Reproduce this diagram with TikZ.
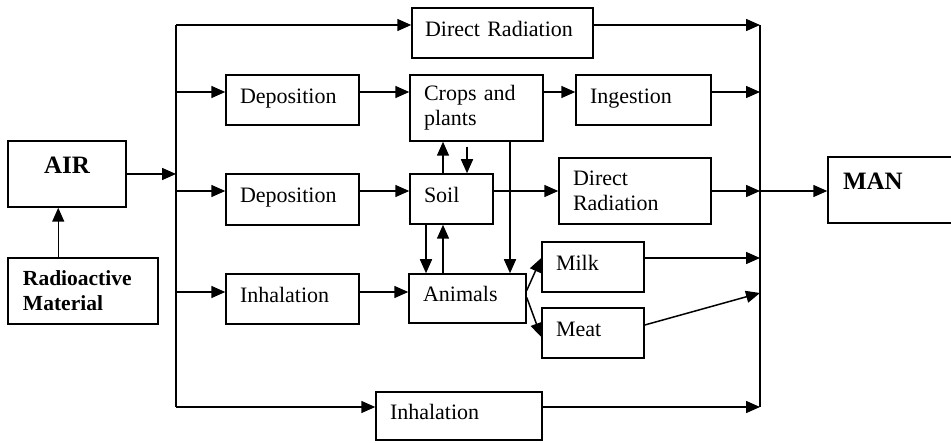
\documentclass[tikz,border=0pt]{standalone}
\usepackage{fontspec}
\setmainfont{Liberation Serif}
\usetikzlibrary{arrows.meta,calc}
\begin{document}
\begin{tikzpicture}[x=1pt,y=-1pt,
  line width=1.5pt,
  arr/.style={-{Triangle[length=14pt,width=12pt]}},
  box/.style={draw, line width=1.5pt, inner xsep=14pt, inner ysep=0pt, align=left, font=\fontsize{22}{25}\selectfont},
  one/.style={text height=14pt, text depth=7pt},
  bbox/.style={draw, line width=1.5pt, inner ysep=0pt, font=\fontsize{25}{25}\selectfont\bfseries}
]
\useasboundingbox (0,0) rectangle (951,443);
\clip (0,0) rectangle (951,443);

% nodes
\node[bbox, minimum width=118pt, minimum height=66pt, text height=17pt, text depth=17pt] (air) at (67,174) {AIR};
\node[box, font=\fontsize{21.5}{25}\selectfont\bfseries, inner xsep=15pt, text width=120pt, minimum height=66pt] (rad) at (83,291) {Radioactive\\Material};
\node[box, one, inner xsep=13pt, text width=155pt, minimum height=50pt] (dr1) at (502.5,33) {Direct Radiation};
\node[box, one, text width=105pt, minimum height=50pt] (dep1) at (292.5,100) {Deposition};
\node[box, text width=105pt, minimum height=66pt] (crops) at (476.5,108) {Crops and\\plants};
\node[box, one, text width=107pt, minimum height=50pt] (ing) at (643.5,100) {Ingestion};
\node[box, one, text width=105pt, minimum height=51pt] (dep2) at (292.5,199.5) {Deposition};
\node[box, one, text width=55pt, minimum height=50pt] (soil) at (451.5,199) {Soil};
\node[box, text width=124pt, minimum height=66pt] (dr2) at (635,191) {Direct\\Radiation};
\node[box, one, text width=105pt, minimum height=50pt] (inh1) at (292.5,299) {Inhalation};
\node[box, one, text width=89pt, minimum height=49pt] (animals) at (467.5,298.5) {Animals};
\node[box, one, text width=74pt, minimum height=50pt] (milk) at (593,267) {Milk};
\node[box, one, text width=74pt, minimum height=50pt] (meat) at (593,333) {Meat};
\node[box, one, text width=138pt, minimum height=48pt] (inh2) at (459,416) {Inhalation};
\node[bbox, inner xsep=15pt, text width=102pt, align=left, minimum height=66pt, text height=17pt, text depth=17pt] (man) at (894,190) {MAN};

% helper coordinates
\coordinate (bT) at (176,25);
\coordinate (bB) at (176,407);
\coordinate (rT) at (760,25);
\coordinate (rB) at (760,407);
\coordinate (r1) at (0,92);
\coordinate (r2) at (0,191);
\coordinate (r3) at (0,292);
\coordinate (rm) at (0,258);
\coordinate (rt) at (0,293);
\coordinate (x1) at (426,0);
\coordinate (x2) at (443,0);
\coordinate (x3) at (467,0);
\coordinate (x4) at (510,0);

% buses
\draw (bT) -- (bB);
\draw (rT) -- (rB);

% connectors
\draw[arr] ([xshift=51pt]rad.north west) -- ([xshift=51pt]air.south west);
\draw[arr] (air.east) -- (air.east -| bT);
\draw[arr] (bT) -- (bT -| dr1.west);
\draw[arr] (dr1.east |- bT) -- (rT);
\draw[arr] (bT |- r1) -- (dep1.west |- r1);
\draw[arr] (dep1.east |- r1) -- (crops.west |- r1);
\draw[arr] (crops.east |- r1) -- (ing.west |- r1);
\draw[arr] (ing.east |- r1) -- (rT |- r1);
\draw[arr] (bT |- r2) -- (dep2.west |- r2);
\draw[arr] (dep2.east |- r2) -- (soil.west |- r2);
\draw[arr] (soil.east |- r2) -- (dr2.west |- r2);
\draw[arr] (dr2.east |- r2) -- (rT |- r2);
\draw[arr] (rT |- r2) -- (man.west |- r2);
\draw[arr] (bT |- r3) -- (inh1.west |- r3);
\draw[arr] (inh1.east |- r3) -- (animals.west |- r3);
\draw[arr] (crops.south -| x4) -- (animals.north -| x4);
\draw[arr] (soil.north -| x2) -- (crops.south -| x2);
\draw[arr] ($(crops.south -| x3)+(0,5)$) -- (soil.north -| x3);
\draw[arr] (soil.south -| x1) -- (animals.north -| x1);
\draw[arr] (animals.north -| x2) -- (soil.south -| x2);
\draw[arr] ($(animals.east)+(0,-8)$) -- ($(milk.west)+(0,-9)$);
\draw[arr] ($(animals.east)+(0,-1)$) -- ($(meat.west)+(0,4)$);
\draw[arr] (milk.east |- rm) -- (rT |- rm);
\draw[arr] ($(meat.east)+(0,-8)$) -- (rT |- rt);
\draw[arr] (bB) -- (inh2.west |- bB);
\draw[arr] (inh2.east |- bB) -- (rB);
\end{tikzpicture}
\end{document}
